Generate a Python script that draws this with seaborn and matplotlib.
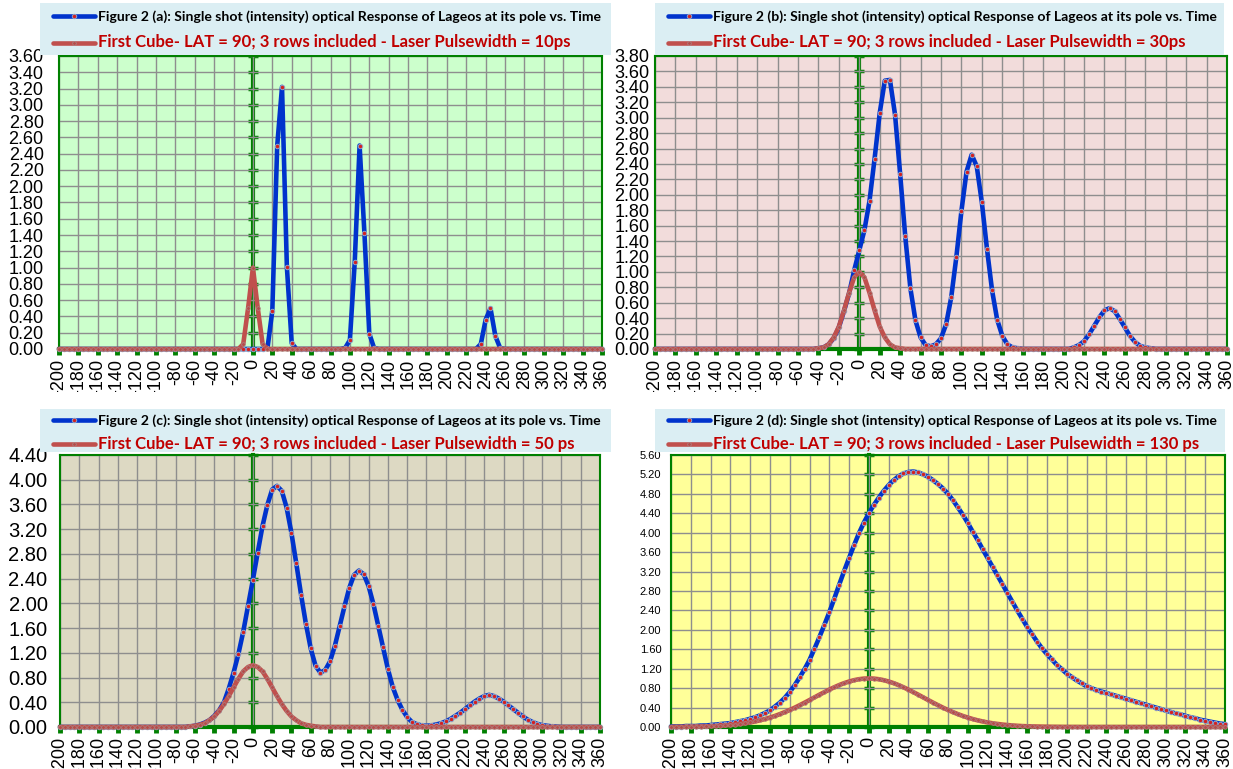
import matplotlib
matplotlib.use("Agg")
import matplotlib.pyplot as plt
from matplotlib.patches import Rectangle
import seaborn as sns
import pandas as pd
import numpy as np

# ---------------- data ----------------
time_ps = list(range(-200, 365, 5))          # 113 samples, every 5 ps
x_ticks = list(range(-200, 361, 20))

# Figure 2 (a) - 10 ps
a_blue = [0]*10 + [0]*10 + [0]*10 + [0]*10 + \
    [0, 0, 0, 0.01, 0.47, 2.49, 3.22, 1.01, 0.07, 0] + \
    [0, 0, 0, 0, 0, 0, 0, 0, 0, 0.01] + \
    [0.11, 1.07, 2.50, 1.42, 0.19, 0.01, 0, 0, 0, 0] + \
    [0]*10 + \
    [0, 0, 0, 0, 0, 0, 0, 0.06, 0.36, 0.50] + \
    [0.16, 0.01, 0, 0, 0, 0, 0, 0, 0, 0] + \
    [0]*10 + [0, 0, 0]
a_red = [0]*10 + [0]*10 + [0]*10 + \
    [0, 0, 0, 0, 0, 0, 0, 0, 0.06, 0.50] + \
    [1.00, 0.50, 0.06, 0, 0, 0, 0, 0, 0, 0] + \
    [0]*10 + [0]*10 + [0]*10 + [0]*10 + [0]*10 + [0]*10 + [0, 0, 0]

# Figure 2 (b) - 30 ps
b_blue = [0]*10 + [0]*10 + [0]*10 + \
    [0, 0, 0.01, 0.02, 0.06, 0.14, 0.28, 0.49, 0.72, 1.02] + \
    [1.28, 1.54, 1.92, 2.47, 3.06, 3.48, 3.49, 3.04, 2.27, 1.46] + \
    [0.79, 0.37, 0.15, 0.05, 0.035, 0.06, 0.14, 0.32, 0.67, 1.19] + \
    [1.79, 2.30, 2.52, 2.37, 1.90, 1.30, 0.76, 0.38, 0.17, 0.06] + \
    [0.02, 0.01, 0, 0, 0, 0, 0, 0, 0, 0] + \
    [0, 0, 0.02, 0.05, 0.10, 0.19, 0.30, 0.41, 0.50, 0.53] + \
    [0.49, 0.39, 0.28, 0.17, 0.09, 0.04, 0.02, 0.01, 0, 0] + \
    [0]*10 + [0, 0, 0]
b_red = [0]*10 + [0]*10 + [0]*10 + \
    [0, 0, 0.01, 0.02, 0.06, 0.15, 0.29, 0.50, 0.73, 0.93] + \
    [1.00, 0.93, 0.73, 0.50, 0.29, 0.15, 0.06, 0.02, 0.01, 0] + \
    [0]*10 + [0]*10 + [0]*10 + [0]*10 + [0]*10 + [0]*10 + [0, 0, 0]

# Figure 2 (c) - 50 ps
c_blue = [0]*10 + [0]*10 + \
    [0, 0, 0, 0, 0, 0, 0, 0.01, 0.02, 0.04] + \
    [0.07, 0.11, 0.18, 0.27, 0.40, 0.62, 0.88, 1.18, 1.54, 1.96] + \
    [2.38, 2.82, 3.25, 3.59, 3.84, 3.90, 3.82, 3.55, 3.14, 2.65] + \
    [2.14, 1.67, 1.27, 0.99, 0.88, 0.92, 1.06, 1.31, 1.63, 1.95] + \
    [2.25, 2.46, 2.53, 2.47, 2.28, 1.99, 1.64, 1.29, 0.94, 0.65] + \
    [0.44, 0.28, 0.16, 0.08, 0.045, 0.025, 0.02, 0.025, 0.04, 0.06] + \
    [0.09, 0.13, 0.18, 0.23, 0.29, 0.35, 0.41, 0.46, 0.50, 0.52] + \
    [0.50, 0.46, 0.41, 0.35, 0.29, 0.23, 0.17, 0.12, 0.08, 0.05] + \
    [0.03, 0.02, 0.01, 0.005, 0, 0, 0, 0, 0, 0] + [0, 0, 0]
c_red = [0]*10 + [0]*10 + \
    [0, 0, 0, 0, 0, 0, 0, 0.01, 0.02, 0.035] + \
    [0.06, 0.11, 0.17, 0.26, 0.37, 0.50, 0.64, 0.78, 0.90, 0.97] + \
    [1.00, 0.97, 0.90, 0.78, 0.64, 0.50, 0.37, 0.26, 0.17, 0.11] + \
    [0.06, 0.035, 0.02, 0.01, 0, 0, 0, 0, 0, 0] + \
    [0]*10 + [0]*10 + [0]*10 + [0]*10 + [0]*10 + [0, 0, 0]

# Figure 2 (d) - 130 ps
d_blue = [0.01, 0.01, 0.01, 0.02, 0.02, 0.02, 0.03, 0.03, 0.04, 0.05] + \
    [0.06, 0.07, 0.08, 0.10, 0.12, 0.14, 0.17, 0.20, 0.24, 0.29] + \
    [0.34, 0.42, 0.50, 0.60, 0.72, 0.86, 1.02, 1.19, 1.38, 1.61] + \
    [1.85, 2.10, 2.36, 2.64, 2.93, 3.21, 3.48, 3.74, 3.99, 4.21] + \
    [4.40, 4.57, 4.72, 4.86, 4.98, 5.08, 5.16, 5.22, 5.25, 5.26] + \
    [5.24, 5.20, 5.15, 5.08, 5.00, 4.91, 4.80, 4.67, 4.52, 4.37] + \
    [4.20, 4.02, 3.85, 3.66, 3.48, 3.30, 3.12, 2.94, 2.76, 2.58] + \
    [2.40, 2.23, 2.06, 1.91, 1.76, 1.62, 1.50, 1.39, 1.28, 1.19] + \
    [1.10, 1.03, 0.96, 0.90, 0.84, 0.80, 0.76, 0.73, 0.70, 0.67] + \
    [0.64, 0.61, 0.58, 0.55, 0.52, 0.49, 0.46, 0.43, 0.40, 0.37] + \
    [0.34, 0.31, 0.28, 0.26, 0.23, 0.20, 0.18, 0.15, 0.13, 0.11] + \
    [0.09, 0.07, 0.06]
d_red = [0.001, 0.002, 0.003, 0.004, 0.005, 0.007, 0.009, 0.012, 0.015, 0.019] + \
    [0.025, 0.032, 0.040, 0.050, 0.063, 0.077, 0.094, 0.114, 0.137, 0.164] + \
    [0.194, 0.227, 0.265, 0.306, 0.350, 0.397, 0.448, 0.500, 0.554, 0.609] + \
    [0.664, 0.717, 0.769, 0.818, 0.863, 0.903, 0.936, 0.964, 0.984, 0.996] + \
    [1.000, 0.996, 0.984, 0.964, 0.936, 0.903, 0.863, 0.818, 0.769, 0.717] + \
    [0.664, 0.609, 0.554, 0.500, 0.448, 0.397, 0.350, 0.306, 0.265, 0.227] + \
    [0.194, 0.164, 0.137, 0.114, 0.094, 0.077, 0.063, 0.050, 0.040, 0.032] + \
    [0.025, 0.019, 0.015, 0.012, 0.009, 0.007, 0.005, 0.004, 0.003, 0.002] + \
    [0.001, 0.001, 0.001, 0, 0, 0, 0, 0, 0, 0] + \
    [0]*10 + [0]*10 + [0, 0, 0]

blue_labels = [
    "Figure 2 (a): Single shot (intensity) optical Response of Lageos at its pole vs. Time",
    "Figure 2 (b): Single shot (intensity) optical Response of Lageos at its pole vs. Time",
    "Figure 2 (c): Single shot (intensity) optical Response of Lageos at its pole vs. Time",
    "Figure 2 (d): Single shot (intensity) optical Response of Lageos at its pole vs. Time",
]
red_labels = [
    "First Cube- LAT = 90; 3 rows included - Laser Pulsewidth = 10ps",
    "First Cube- LAT = 90; 3 rows included - Laser Pulsewidth = 30ps",
    "First Cube- LAT = 90; 3 rows included - Laser Pulsewidth = 50 ps",
    "First Cube- LAT = 90; 3 rows included - Laser Pulsewidth = 130 ps",
]
y_max = [3.6, 3.8, 4.4, 5.6]
y_step = [0.2, 0.2, 0.4, 0.4]

for s in (a_blue, a_red, b_blue, b_red, c_blue, c_red, d_blue, d_red):
    assert len(s) == len(time_ps), len(s)

# ---------------- style / layout ----------------
sns.set_theme(style="white")
plt.rcParams['font.family'] = ['Liberation Sans', 'DejaVu Sans']

W, H = 1233, 769
fig = plt.figure(figsize=(W / 100, H / 100), dpi=100)
fig.patch.set_facecolor('white')

GREEN = '#008000'
BLUE = '#0033CC'
RED = '#C0504D'

layout = [
    dict(rect=(59, 56, 602, 349), bg='#CCFFCC', ysize=13, ypad=11,
         box=(40, 3, 611, 55), lgy=5, lsp=0.78),
    dict(rect=(655, 56, 1227, 349), bg='#F2DCDB', ysize=13, ypad=4,
         box=(655, 3, 1224, 55), lgy=5, lsp=0.78),
    dict(rect=(60, 455, 600, 727), bg='#DDD9C3', ysize=14.5, ypad=9,
         box=(40, 409, 611, 452), lgy=3, lsp=0.6),
    dict(rect=(671, 455, 1225, 727), bg='#FFFF99', ysize=8, ypad=7,
         box=(655, 409, 1225, 452), lgy=3, lsp=0.6),
]
series = [(a_blue, a_red), (b_blue, b_red), (c_blue, c_red), (d_blue, d_red)]

for i, (lay, (blue, red)) in enumerate(zip(layout, series)):
    l, t, r, b = lay['rect']
    ax = fig.add_axes([l / W, 1 - b / H, (r - l) / W, (b - t) / H])
    ax.set_facecolor(lay['bg'])
    df = pd.DataFrame({'t': time_ps, 'resp': blue, 'laser': red})
    sns.lineplot(data=df, x='t', y='resp', ax=ax, color=BLUE, lw=3.3,
                 marker='o', markersize=3.2, markerfacecolor='#D42020',
                 markeredgecolor='#8FA3C8', markeredgewidth=0.7,
                 legend=False, zorder=4, clip_on=False, label=blue_labels[i])
    sns.lineplot(data=df, x='t', y='laser', ax=ax, color=RED, lw=3.3,
                 marker='o', markersize=2.6, markerfacecolor='#B84A47',
                 markeredgecolor='#A88888', markeredgewidth=0.5,
                 legend=False, zorder=5, clip_on=False, label=red_labels[i])
    ax.set_xlabel('')
    ax.set_ylabel('')
    ax.set_xlim(-200, 360)
    ax.set_ylim(0, y_max[i])
    ax.set_xticks(x_ticks)
    ax.set_xticklabels([str(v) for v in x_ticks], rotation=90, fontsize=13,
                       color='black')
    yt = np.round(np.arange(0, y_max[i] + 1e-9, y_step[i]), 2)
    ax.set_yticks(yt)
    ax.set_yticklabels([f"{v:.2f}" for v in yt], fontsize=lay['ysize'], color='black')
    ax.grid(True, color='#8E8E8E', lw=1.0)
    ax.set_axisbelow(True)
    for sp in ('top', 'right', 'left'):
        ax.spines[sp].set_color(GREEN)
        ax.spines[sp].set_linewidth(1.5)
        ax.spines[sp].set_visible(True)
    ax.spines['bottom'].set_color(GREEN)
    ax.spines['bottom'].set_linewidth(3)
    ax.spines['bottom'].set_visible(True)
    ax.tick_params(axis='x', direction='out', length=4, width=3.5,
                   color=GREEN, pad=3, bottom=True)
    ax.tick_params(axis='y', length=0, pad=lay['ypad'], left=True)

    # vertical green axis at t = 0
    sec = ax.secondary_yaxis(200 / 560)
    sec.set_yticks(yt)
    sec.tick_params(direction='inout', length=7, width=2.5, color=GREEN,
                    labelleft=False, labelright=False)
    for sp in sec.spines.values():
        sp.set_color(GREEN)
        sp.set_linewidth(3)

    # legend box + legend
    x0, y0, x1, y1 = lay['box']
    fig.add_artist(Rectangle((x0 / W, 1 - y1 / H), (x1 - x0) / W, (y1 - y0) / H,
                             transform=fig.transFigure, facecolor='#DBEEF3',
                             edgecolor='none', zorder=4))
    lines = ax.get_lines()[:2]
    leg = fig.legend(lines, [blue_labels[i], red_labels[i]], loc='upper left',
                     bbox_to_anchor=((x0 + 10) / W, 1 - (y0 + lay['lgy']) / H),
                     bbox_transform=fig.transFigure, frameon=False,
                     prop={'family': 'Lato', 'weight': 'bold', 'size': 10.1},
                     handlelength=3.0, handletextpad=0.25, labelspacing=lay['lsp'],
                     borderpad=0.2, borderaxespad=0)
    leg.set_zorder(6)
    txt = leg.get_texts()
    txt[0].set_color('black')
    txt[1].set_color('#C00000')
    txt[1].set_fontsize(12.0)

# clip the rotated tick labels of the top row like the reference
fig.add_artist(Rectangle((0, 1 - 405 / H), 1, (405 - 392) / H,
                         transform=fig.transFigure, facecolor='white',
                         edgecolor='none', zorder=3))

fig.savefig('out.png', dpi=100)
